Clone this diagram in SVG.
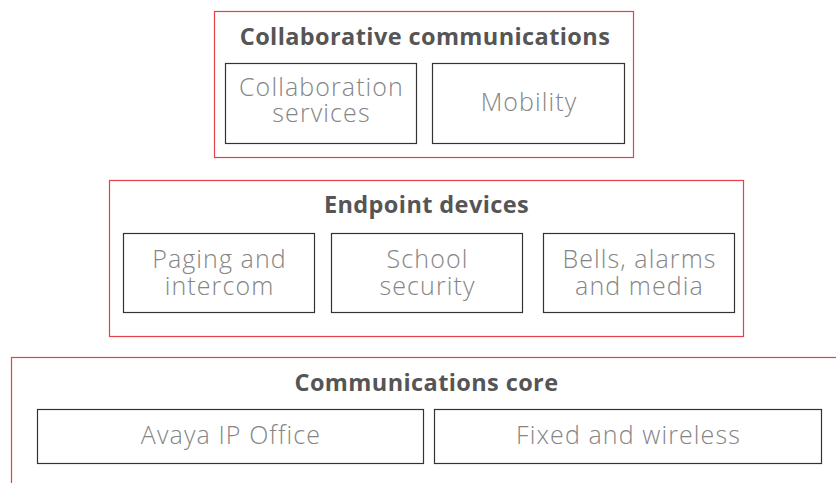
<svg xmlns="http://www.w3.org/2000/svg" width="836" height="483" viewBox="0 0 836 483">
<style>
.grp{fill:none;stroke:#e8404a;stroke-width:1.2}
.box{fill:#fff;stroke:#333;stroke-width:1.2}
.ttl{font-family:"Open Sans","Liberation Sans",sans-serif;font-weight:700;font-size:23.5px;letter-spacing:0.4px;fill:#555;text-anchor:middle}
.lbl{font-family:"Open Sans","Liberation Sans",sans-serif;font-weight:300;font-size:25px;letter-spacing:1.1px;fill:#858585;text-anchor:middle}
</style>
<rect width="836" height="483" fill="#fff"/>
<g id="collaborative">
<rect class="grp" x="214.5" y="11.5" width="419" height="146"/>
<text class="ttl" x="425" y="45">Collaborative communications</text>
</g>
<g id="collab-services">
<rect class="box" x="225.5" y="63.5" width="191" height="80"/>
<text class="lbl" x="321.5" y="96">Collaboration</text>
<text class="lbl" x="321.5" y="122">services</text>
</g>
<g id="mobility">
<rect class="box" x="432.5" y="63.5" width="192" height="80"/>
<text class="lbl" x="529" y="111">Mobility</text>
</g>
<g id="endpoint">
<rect class="grp" x="109.5" y="180.5" width="634" height="156"/>
<text class="ttl" x="426.5" y="213">Endpoint devices</text>
</g>
<g id="paging">
<rect class="box" x="123.5" y="233.5" width="191" height="79"/>
<text class="lbl" x="219.5" y="268">Paging and</text>
<text class="lbl" x="219.5" y="295">intercom</text>
</g>
<g id="school">
<rect class="box" x="331.5" y="233.5" width="191" height="79"/>
<text class="lbl" x="427.5" y="268">School</text>
<text class="lbl" x="427.5" y="295">security</text>
</g>
<g id="bells">
<rect class="box" x="543.5" y="233.5" width="191" height="79"/>
<text class="lbl" x="639.5" y="268">Bells, alarms</text>
<text class="lbl" x="639.5" y="295">and media</text>
</g>
<g id="core">
<rect class="grp" x="11.5" y="357.5" width="840" height="140"/>
<text class="ttl" x="426.5" y="391">Communications core</text>
</g>
<g id="avaya">
<rect class="box" x="37.5" y="409.5" width="386" height="54"/>
<text class="lbl" x="231" y="444">Avaya IP Office</text>
</g>
<g id="fixed">
<rect class="box" x="434.5" y="409.5" width="387" height="54"/>
<text class="lbl" x="628.5" y="444">Fixed and wireless</text>
</g>
<g id="connectors"/>
</svg>
